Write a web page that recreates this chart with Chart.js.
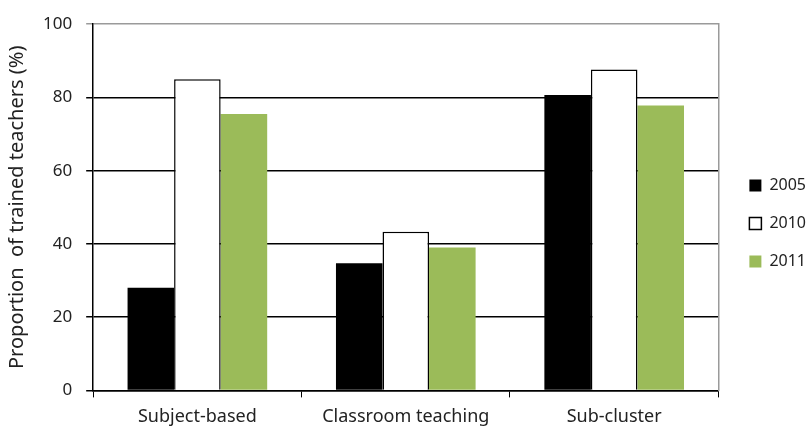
<!DOCTYPE html>
<html>
<head>
<meta charset="utf-8">
<script src="https://cdn.jsdelivr.net/npm/chart.js@4"></script>
<style>
  html, body { margin: 0; padding: 0; background: #fff; }
  #wrap { width: 809px; height: 433px; }
</style>
</head>
<body>
<div id="wrap"><canvas id="myChart"></canvas></div>
<script>
const categories = ['Subject-based', 'Classroom teaching', 'Sub-cluster']
const years = ['2005', '2010', '2011']
const values2005 = [28, 34.7, 80.7]
const values2010 = [85, 43.3, 87.6]
const values2011 = [75.5, 39, 77.8]
const yTicks = [0, 20, 40, 60, 80, 100]

const green = '#9BBB59'
const font = 'Noto Sans'
const textColor = '#222'

//chart config
const myChart = new Chart(
    document.getElementById('myChart'),
    {
        type: 'bar',
        data: {
            labels: categories,
            datasets: [
                { label: years[0], data: values2005, backgroundColor: '#000000', borderColor: '#000000', borderWidth: 0 },
                { label: years[1], data: values2010, backgroundColor: '#FFFFFF', borderColor: '#000000', borderWidth: 1.5 },
                { label: years[2], data: values2011, backgroundColor: green, borderColor: green, borderWidth: 0 }
            ]
        },
        options: {
            responsive: true,
            maintainAspectRatio: false,
            animation: false,
            layout: { padding: { top: 10, right: -7, bottom: -4, left: 5 } },
            datasets: {
                bar: { categoryPercentage: 0.67, barPercentage: 1.0 }
            },
            plugins: {
                tooltip: { enabled: false },
                legend: {
                    display: true,
                    position: 'right',
                    labels: {
                        color: textColor,
                        font: { family: font, size: 16 },
                        boxWidth: 12,
                        boxHeight: 12,
                        padding: 22,
                        generateLabels: (chart) => chart.data.datasets.map((ds, i) => ({
                            text: ds.label,
                            fillStyle: ds.backgroundColor,
                            strokeStyle: '#000000',
                            fontColor: textColor,
                            lineWidth: i === 1 ? 1.5 : 0,
                            datasetIndex: i
                        }))
                    }
                }
            },
            scales: {
                x: {
                    grid: { drawOnChartArea: false, drawTicks: true, tickLength: 7, color: '#000', offset: true },
                    border: { color: '#000', width: 1.5 },
                    ticks: { color: textColor, font: { family: font, size: 18 }, padding: 9 }
                },
                y: {
                    min: 0,
                    max: 100,
                    afterBuildTicks: (axis) => { axis.ticks = yTicks.map(v => ({ value: v })) },
                    grid: {
                        color: (ctx) => ctx.tick && ctx.tick.value === 100 ? '#9a9a9a' : '#000',
                        lineWidth: 1.5,
                        tickLength: 7
                    },
                    border: { color: '#000', width: 1.5 },
                    ticks: { color: textColor, font: { family: font, size: 17 }, padding: 14 },
                    title: {
                        display: true,
                        text: 'Proportion  of trained teachers (%)',
                        color: textColor,
                        font: { family: font, size: 20 },
                        padding: { top: 0, bottom: 0 }
                    }
                },
                y2: {
                    position: 'right',
                    min: 0,
                    max: 100,
                    afterFit: (axis) => { axis.width = 9 },
                    grid: { display: false, drawTicks: false },
                    border: { color: '#9a9a9a', width: 1.5 },
                    ticks: { display: false }
                }
            }
        }
    });
//chart config end
</script>
</body>
</html>
